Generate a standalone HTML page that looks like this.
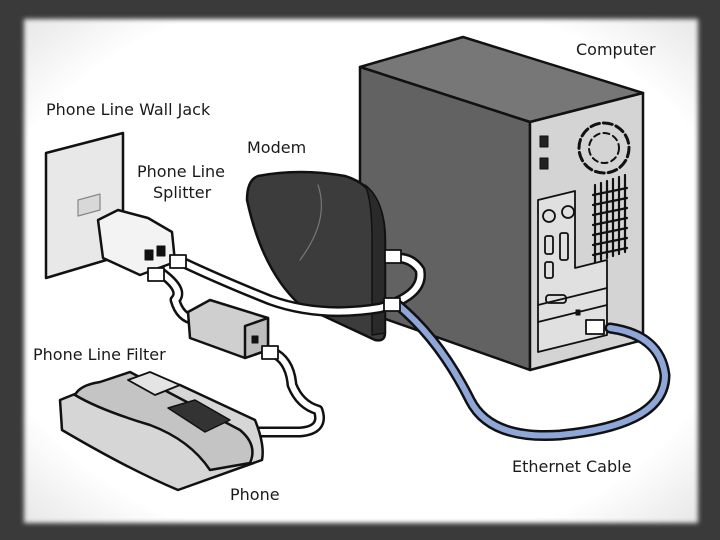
<!DOCTYPE html>
<html><head><style>
html,body{margin:0;padding:0;width:720px;height:540px;overflow:hidden;background:#3a3a3a}
svg{display:block}
text{font-family:"DejaVu Sans","Liberation Sans",sans-serif;font-size:16px;fill:#1a1a1a}
</style></head><body>
<svg width="720" height="540" viewBox="0 0 720 540" xmlns="http://www.w3.org/2000/svg">
<defs>
<filter id="b"><feGaussianBlur stdDeviation="2.5"/></filter>
<radialGradient id="g" cx="50%" cy="50%" r="70%"><stop offset="0.8" stop-color="#fff"/><stop offset="1" stop-color="#e8e8e8"/></radialGradient>
</defs>
<rect x="0" y="0" width="720" height="540" fill="#3a3a3a"/>
<rect x="24" y="19" width="674" height="504" fill="url(#g)" filter="url(#b)"/>
<g stroke="#111" stroke-width="2.5" stroke-linejoin="round" stroke-linecap="round">
<polygon points="360,67 463,37 643,93 530,122" fill="#777"/>
<polygon points="360,67 530,122 530,370 360,310" fill="#626262"/>
<polygon points="530,122 643,93 643,340 530,370" fill="#d4d4d4"/>
<polygon points="538,200 575,191 575,268 607,260 607,335 538,352" fill="#e0e0e0" stroke-width="1.8"/>
<circle cx="549" cy="216" r="6" fill="none" stroke-width="1.8"/>
<circle cx="568" cy="212" r="6" fill="none" stroke-width="1.8"/>
<rect x="545" y="236" width="8" height="18" rx="2" fill="none" stroke-width="1.8"/>
<rect x="560" y="233" width="8" height="27" rx="2" fill="none" stroke-width="1.8"/>
<rect x="545" y="262" width="8" height="16" rx="2" fill="none" stroke-width="1.8"/>
<line x1="538" y1="305" x2="607" y2="288" stroke-width="1.8"/>
<line x1="538" y1="322" x2="607" y2="305" stroke-width="1.8"/>
<rect x="546" y="295" width="20" height="8" rx="3" fill="none" stroke-width="1.8"/>
<rect x="576" y="310" width="4" height="5" fill="#111" stroke-width="1"/>
<rect x="540" y="136" width="8" height="11" fill="#222" stroke-width="1"/>
<rect x="540" y="158" width="8" height="11" fill="#222" stroke-width="1"/>
<circle cx="604" cy="148" r="25" fill="none" stroke-width="3" stroke-dasharray="9 4"/>
<circle cx="604" cy="148" r="15" fill="none" stroke-width="2" stroke-dasharray="6 4"/>
<g stroke-width="2.2">
<line x1="595" y1="185" x2="595" y2="262"/><line x1="601" y1="183" x2="601" y2="260"/><line x1="607" y1="181" x2="607" y2="258"/><line x1="613" y1="179" x2="613" y2="256"/><line x1="619" y1="177" x2="619" y2="254"/><line x1="625" y1="175" x2="625" y2="252"/>
<line x1="593" y1="195" x2="627" y2="188"/><line x1="593" y1="205" x2="627" y2="198"/><line x1="593" y1="215" x2="627" y2="208"/><line x1="593" y1="225" x2="627" y2="218"/><line x1="593" y1="235" x2="627" y2="228"/><line x1="593" y1="245" x2="627" y2="238"/><line x1="593" y1="255" x2="627" y2="248"/>
</g>
<path d="M258,176 Q300,168 345,176 Q385,188 385,240 L385,333 Q385,342 375,340 L300,305 Q262,270 247,200 Q247,180 258,176 Z" fill="#3c3c3c"/>
<path d="M365,185 Q385,200 385,240 L385,333 L372,335 L372,240 Q372,200 365,185Z" fill="#2a2a2a" stroke-width="1.5"/>
<path d="M318,185 Q330,220 300,260" fill="none" stroke="#777" stroke-width="1.2"/>
<polygon points="46,153 123,133 123,255 46,278" fill="#e8e8e8"/>
<polygon points="78,200 100,194 100,210 78,216" fill="#d8d8d8" stroke="#888" stroke-width="1.2"/>
<path d="M98,220 L118,210 L148,218 L172,232 L175,262 L140,275 L103,258 Z" fill="#f3f3f3"/>
<rect x="145" y="250" width="8" height="10" fill="#111" stroke-width="1"/>
<rect x="157" y="246" width="8" height="10" fill="#111" stroke-width="1"/>
<path d="M182,262 Q220,280 270,300 Q320,318 380,308 Q425,295 420,270 Q412,258 398,258" fill="none" stroke="#111" stroke-width="11"/>
<path d="M182,262 Q220,280 270,300 Q320,318 380,308 Q425,295 420,270 Q412,258 398,258" fill="none" stroke="#fff" stroke-width="6"/>
<path d="M160,272 Q185,290 175,300 Q180,318 195,320" fill="none" stroke="#111" stroke-width="11"/>
<path d="M160,272 Q185,290 175,300 Q180,318 195,320" fill="none" stroke="#fff" stroke-width="6"/>
<rect x="170" y="255" width="16" height="13" fill="#fff" stroke-width="1.8"/>
<rect x="148" y="268" width="16" height="13" fill="#fff" stroke-width="1.8"/>
<path d="M398,305 Q440,340 470,400 Q490,440 560,435 Q665,425 665,375 Q660,335 610,328" fill="none" stroke="#111" stroke-width="11"/>
<path d="M398,305 Q440,340 470,400 Q490,440 560,435 Q665,425 665,375 Q660,335 610,328" fill="none" stroke="#8ea6d8" stroke-width="6"/>
<rect x="385" y="250" width="16" height="13" fill="#fff" stroke-width="1.8"/>
<rect x="384" y="298" width="16" height="13" fill="#fff" stroke-width="1.8"/>
<rect x="586" y="320" width="18" height="14" fill="#fff" stroke-width="1.8"/>
<polygon points="188,312 210,300 268,318 268,350 245,358 190,338" fill="#cfcfcf"/>
<polygon points="245,326 268,318 268,350 245,358" fill="#bdbdbd"/>
<rect x="252" y="336" width="6" height="7" fill="#111" stroke-width="1"/>
<path d="M272,352 Q290,360 292,385 Q300,405 318,410 Q325,430 300,432 L250,432" fill="none" stroke="#111" stroke-width="11"/>
<path d="M272,352 Q290,360 292,385 Q300,405 318,410 Q325,430 300,432 L250,432" fill="none" stroke="#fff" stroke-width="6"/>
<rect x="262" y="346" width="16" height="13" fill="#fff" stroke-width="1.8"/>
<path d="M60,400 L110,380 L180,385 L255,420 Q265,445 262,460 L178,490 Q130,470 62,430 Z" fill="#d6d6d6"/>
<path d="M75,395 Q80,385 100,382 L130,372 L240,430 Q258,445 250,463 L210,470 Q190,440 150,425 Q100,410 75,395 Z" fill="#c4c4c4"/>
<polygon points="128,380 150,372 180,385 155,395" fill="#e4e4e4" stroke-width="1.8"/>
<polygon points="168,408 195,400 230,420 205,432" fill="#333" stroke-width="1.5"/>
</g>
<text x="46" y="115">Phone Line Wall Jack</text>
<text x="247" y="153">Modem</text>
<text x="137" y="177">Phone Line</text>
<text x="153" y="198">Splitter</text>
<text x="576" y="55">Computer</text>
<text x="33" y="360">Phone Line Filter</text>
<text x="512" y="472">Ethernet Cable</text>
<text x="230" y="500">Phone</text>
</svg>
</body></html>
